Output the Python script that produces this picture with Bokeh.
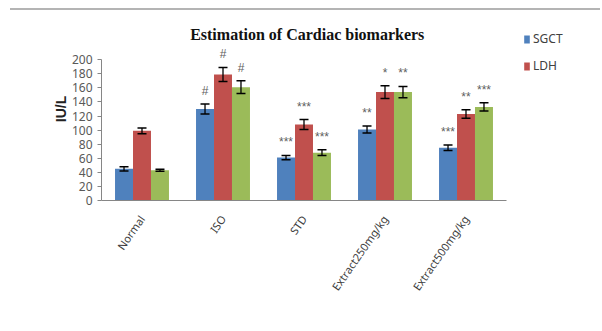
from bokeh.plotting import figure
from bokeh.models import (Range1d, Legend, LegendItem, Label,
                          ColumnDataSource, FixedTicker)
from bokeh.transform import dodge
from bokeh.core.properties import value
from bokeh.embed import file_html
from bokeh.resources import INLINE

categories = ["Normal", "ISO", "STD", "Extract250mg/kg", "Extract500mg/kg"]
sgct = [45, 130, 61, 101, 75]
ldh = [99, 179, 108, 154, 123]
ckmb = [43, 161, 68, 154, 133]
sgct_err = [3, 7, 3, 5, 4]
ldh_err = [4, 10, 7, 9, 6]
ckmb_err = [1.5, 9, 4, 8, 6]
sgct_sig = ["", "#", "***", "**", "***"]
ldh_sig = ["", "#", "***", "*", "**"]
ckmb_sig = ["", "#", "***", "**", "***"]
y_ticks = [0, 20, 40, 60, 80, 100, 120, 140, 160, 180, 200]

colors = ["#4F81BD", "#C0504D", "#9BBB59"]
W = 0.222
idx = list(range(len(categories)))

data = dict(idx=idx, cat=categories)
series = [("sgct", sgct, sgct_err, sgct_sig),
          ("ldh", ldh, ldh_err, ldh_sig),
          ("ckmb", ckmb, ckmb_err, ckmb_sig)]
for name, vals, errs, sig in series:
    data[name] = vals
    data[name + "_hi"] = [v + e for v, e in zip(vals, errs)]
    data[name + "_lo"] = [v - e for v, e in zip(vals, errs)]
    data[name + "_sig"] = sig
src = ColumnDataSource(data)

p = figure(x_range=Range1d(-0.5, 5.5), y_range=Range1d(0, 260),
           width=590, height=318, output_backend="svg", toolbar_location=None,
           min_border_left=91, min_border_right=13, min_border_top=7,
           min_border_bottom=128)
p.styles = {"border-top": "2px solid #b4b4b4", "margin-top": "8px",
            "margin-left": "10px"}
p.xgrid.visible = False
p.ygrid.visible = False
p.outline_line_color = None

renderers = []
for i, (name, vals, errs, sig) in enumerate(series):
    xd = dodge("idx", (i - 1) * W)
    r = p.vbar(x=xd, top=name, width=W, source=src, fill_color=colors[i],
               line_color=None)
    renderers.append(r)
for i, (name, vals, errs, sig) in enumerate(series):
    xd = dodge("idx", (i - 1) * W)
    p.segment(x0=xd, y0=name + "_lo", x1=xd, y1=name + "_hi", source=src,
              line_color="black", line_width=1.3)
    p.scatter(x=xd, y=name + "_hi", source=src, marker="dash", size=9,
              line_color="black", line_width=1.5)
    p.scatter(x=xd, y=name + "_lo", source=src, marker="dash", size=9,
              line_color="black", line_width=1.5)
    p.text(x=xd, y=name + "_hi", text=name + "_sig", source=src,
           text_align="center", text_baseline="bottom", y_offset=-6,
           text_font=value("Liberation Sans"), text_font_size="12px",
           text_color="#606060")

legend = Legend(items=[LegendItem(label="SGCT", renderers=[renderers[0]]),
                       LegendItem(label="LDH", renderers=[renderers[1]])],
                location=(422, 126), padding=0, margin=0, spacing=10,
                glyph_width=7, glyph_height=10, label_height=16,
                label_standoff=3, border_line_color=None,
                background_fill_alpha=0,
                label_text_font="Noto Sans", label_text_font_size="12px",
                label_text_color="#404040")
p.add_layout(legend)

title = Label(x=2.04, y=236, text="Estimation of Cardiac biomarkers",
              text_font="Liberation Serif", text_font_style="bold",
              text_font_size="16px", text_align="center",
              text_baseline="middle", text_color="#111111")
p.add_layout(title)

p.yaxis.ticker = FixedTicker(ticks=y_ticks)
p.yaxis.bounds = (0, 200)
p.yaxis.axis_label = "IU/L"
p.yaxis.axis_label_text_font = "Liberation Sans"
p.yaxis.axis_label_text_font_style = "bold"
p.yaxis.axis_label_text_font_size = "14px"
p.yaxis.axis_label_text_color = "#222222"
p.yaxis.axis_label_standoff = 0
p.yaxis.major_label_text_font = "Noto Sans"
p.yaxis.major_label_text_font_size = "12px"
p.yaxis.major_label_text_color = "#595959"
p.yaxis.axis_line_color = "#868686"
p.yaxis.major_tick_line_color = "#868686"
p.yaxis.major_tick_in = 0
p.yaxis.major_tick_out = 4
p.yaxis.minor_tick_line_color = None

p.xaxis.ticker = FixedTicker(ticks=idx)
p.xaxis.major_label_overrides = {i: c for i, c in zip(idx, categories)}
p.xaxis.bounds = (-0.5, len(categories) - 0.5)
p.xaxis.axis_line_color = "#868686"
p.xaxis.major_tick_line_color = None
p.xaxis.minor_tick_line_color = None
p.xaxis.major_label_orientation = 0.96
p.xaxis.major_label_text_font = "Noto Sans"
p.xaxis.major_label_text_font_size = "11px"
p.xaxis.major_label_text_color = "#404040"
p.xaxis.major_label_standoff = 10

open("out.html", "w").write(file_html(p, INLINE))
